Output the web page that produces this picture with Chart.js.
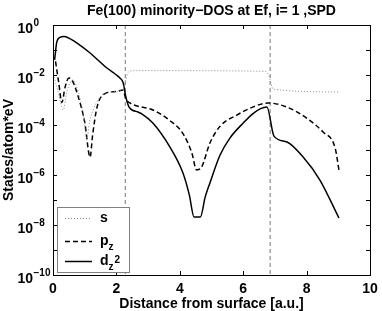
<!DOCTYPE html>
<html>
<head>
<meta charset="utf-8">
<script src="https://cdn.jsdelivr.net/npm/chart.js@4.4.1/dist/chart.umd.min.js"></script>
<style>
  html, body { margin: 0; padding: 0; background: #fff; }
  #wrap { width: 382px; height: 311px; }
</style>
</head>
<body>
<div id="wrap"><canvas id="dos" width="382" height="311"></canvas></div>
<script>
// Fe(100) minority DOS at Ef, layer i=1
const FONT = '"Liberation Sans", Arial, Helvetica, sans-serif';

const sX = [0.03, 0.15, 0.32, 0.45, 0.63, 0.8, 0.95, 1.07, 1.15, 1.23, 1.48, 1.8, 2.18, 2.3, 2.37, 2.6, 6.7, 6.8, 6.95, 9.05];
const sY = [8.3e-3, 2.5e-3, 4.0e-4, 2.5e-3, 6.3e-3, 2.0e-3, 3.2e-4, 3.0e-5, 1.3e-4, 3.0e-4, 1.3e-3, 2.1e-3, 2.5e-3, 6.3e-3, 1.3e-2, 1.5e-2, 1.4e-2, 1.0e-2, 2.7e-3, 2.1e-3];

const pX = [0.08, 0.18, 0.28, 0.38, 0.5, 0.6, 0.8, 1.0, 1.17, 1.25, 1.39, 1.64, 2.0, 2.21, 2.3, 2.43, 3.15, 3.69, 4.1, 4.38, 4.53, 4.68, 4.95, 5.27, 5.8, 6.3, 6.78, 7.38, 8.0, 8.52, 8.9, 9.02];
const pY = [3.5e-2, 5.0e-3, 7.9e-4, 3.2e-3, 7.6e-3, 6.3e-3, 1.3e-3, 1.3e-4, 5.2e-6, 4.0e-5, 5.2e-4, 1.8e-3, 2.2e-3, 2.5e-3, 1.1e-3, 7.6e-4, 4.0e-4, 1.5e-4, 4.5e-5, 7.6e-6, 1.6e-6, 2.0e-6, 1.9e-5, 8.9e-5, 2.5e-4, 5.2e-4, 7.6e-4, 5.2e-4, 1.9e-4, 5.2e-5, 1.2e-5, 1.6e-6];

const dX = [0.05, 0.12, 0.22, 0.35, 0.5, 0.76, 1.17, 1.7, 2.0, 2.11, 2.21, 2.3, 2.4, 2.68, 2.8, 3.15, 3.69, 4.1, 4.3, 4.45, 4.65, 4.8, 4.95, 5.27, 5.58, 6.0, 6.3, 6.55, 6.75, 6.97, 7.38, 7.89, 8.42, 9.02];
const dY = [4.0e-2, 2.1e-1, 3.2e-1, 3.5e-1, 3.0e-1, 1.9e-1, 7.6e-2, 1.9e-2, 1.0e-2, 7.6e-3, 5.0e-3, 1.3e-3, 5.2e-4, 3.3e-4, 2.8e-4, 1.2e-4, 1.3e-5, 1.2e-6, 1.6e-7, 2.1e-8, 2.1e-8, 1.3e-7, 4.8e-7, 6.3e-6, 3.0e-5, 1.2e-4, 2.8e-4, 4.5e-4, 5.2e-4, 3.6e-5, 2.1e-5, 5.2e-6, 6.3e-7, 1.9e-8];

// layer boundaries (gray dashed verticals)
const boundaries = [2.28, 6.85];

const xTicks = [0, 2, 4, 6, 8, 10];
const xTickLabels = ['0', '2', '4', '6', '8', '10'];
const yDecades = [1, 1e-1, 1e-2, 1e-3, 1e-4, 1e-5, 1e-6, 1e-7, 1e-8, 1e-9, 1e-10];
const yLabelVals = [1, 1e-2, 1e-4, 1e-6, 1e-8, 1e-10];
const yLabelExps = ['0', '\u22122', '\u22124', '\u22126', '\u22128', '\u221210'];

const TITLE = 'Fe(100) minority\u2212DOS at Ef, i= 1 ,SPD';
const X_TITLE = 'Distance from surface [a.u.]';
const Y_TITLE = 'States/atom*eV';

const legendItems = [
  { base: 's', sub: '', sup: '', color: '#888', width: 1, dash: [1, 2] },
  { base: 'p', sub: 'z', sup: '', color: '#000', width: 1.5, dash: [5, 3] },
  { base: 'd', sub: 'z', sup: '2', color: '#000', width: 1.5, dash: [] }
];

function pts(xs, ys) {
  return xs.map((x, i) => ({ x: x, y: ys[i] }));
}

const datasets = [
  { label: 's', data: pts(sX, sY), borderColor: '#888', borderWidth: 1, borderDash: [1, 2] },
  { label: 'p_z', data: pts(pX, pY), borderColor: '#000', borderWidth: 1.5, borderDash: [5, 3] },
  { label: 'd_z2', data: pts(dX, dY), borderColor: '#000', borderWidth: 1.5 }
].map(d => Object.assign(d, { pointRadius: 0, cubicInterpolationMode: 'monotone', fill: false }));

// verticals go last so they are painted underneath
boundaries.forEach(b => {
  datasets.push({
    label: 'boundary',
    data: [{ x: b, y: 1 }, { x: b, y: 1e-10 }],
    borderColor: '#777', borderWidth: 1, borderDash: [4, 3],
    pointRadius: 0, fill: false
  });
});

// box, inward ticks, tick labels and titles (MATLAB look)
const framePlugin = {
  id: 'frame',
  afterDatasetsDraw(chart) {
    const { ctx, chartArea: a, scales } = chart;
    const x = scales.x, y = scales.y;
    ctx.save();
    ctx.strokeStyle = '#000';
    ctx.lineWidth = 1;
    ctx.beginPath();
    xTicks.forEach(t => {
      const px = Math.round(x.getPixelForValue(t)) + 0.5;
      ctx.moveTo(px, a.bottom); ctx.lineTo(px, a.bottom - 4);
      ctx.moveTo(px, a.top); ctx.lineTo(px, a.top + 4);
    });
    yDecades.forEach(t => {
      const py = Math.round(y.getPixelForValue(t)) + 0.5;
      ctx.moveTo(a.left, py); ctx.lineTo(a.left + 4, py);
      ctx.moveTo(a.right, py); ctx.lineTo(a.right - 4, py);
    });
    ctx.stroke();
    ctx.strokeRect(Math.round(a.left) + 0.5, Math.round(a.top) + 0.5,
      Math.round(a.right - a.left), Math.round(a.bottom - a.top));

    ctx.fillStyle = '#000';
    ctx.textBaseline = 'alphabetic';

    // y labels: base right-aligned, exponent hanging to the right
    yLabelVals.forEach((v, i) => {
      const py = y.getPixelForValue(v);
      ctx.font = 'bold 14px ' + FONT;
      ctx.textAlign = 'right';
      ctx.fillText('10', 33, py + 7.5);
      ctx.font = 'bold 10px ' + FONT;
      ctx.textAlign = 'left';
      ctx.fillText(yLabelExps[i], 33.5, py + 1);
    });

    // x labels
    ctx.font = 'bold 14px ' + FONT;
    ctx.textAlign = 'center';
    xTicks.forEach((t, i) => {
      ctx.fillText(xTickLabels[i], x.getPixelForValue(t), 293);
    });

    const cx = (a.left + a.right) / 2;
    const cy = (a.top + a.bottom) / 2;
    ctx.fillText(X_TITLE, cx, 308);
    ctx.fillText(TITLE, cx, 15);

    ctx.translate(13, cy);
    ctx.rotate(-Math.PI / 2);
    ctx.fillText(Y_TITLE, 0, 0);
    ctx.restore();
  }
};

const legendPlugin = {
  id: 'mathLegend',
  afterDatasetsDraw(chart) {
    const ctx = chart.ctx;
    const bx = 57, by = 207, bw = 72, bh = 65;
    const rows = [218, 241, 261];
    ctx.save();
    ctx.fillStyle = '#fff';
    ctx.fillRect(bx, by, bw, bh);
    ctx.strokeStyle = '#808080';
    ctx.lineWidth = 1;
    ctx.strokeRect(bx + 0.5, by + 0.5, bw, bh);
    legendItems.forEach((it, i) => {
      const ry = rows[i];
      ctx.beginPath();
      ctx.setLineDash(it.dash);
      ctx.strokeStyle = it.color;
      ctx.lineWidth = it.width;
      ctx.moveTo(65, ry + 0.5); ctx.lineTo(92, ry + 0.5);
      ctx.stroke();
      ctx.setLineDash([]);
      ctx.fillStyle = '#000';
      ctx.textAlign = 'left';
      ctx.textBaseline = 'alphabetic';
      ctx.font = 'bold 14px ' + FONT;
      ctx.fillText(it.base, 100, ry + 4);
      const w = ctx.measureText(it.base).width;
      if (it.sub) {
        ctx.font = 'bold 10px ' + FONT;
        ctx.fillText(it.sub, 100 + w, ry + 8.5);
        if (it.sup) {
          const ws = ctx.measureText(it.sub).width;
          ctx.fillText(it.sup, 100 + w + ws + 1, ry + 2);
        }
      }
    });
    ctx.restore();
  }
};

new Chart(document.getElementById('dos'), {
  type: 'line',
  data: { datasets },
  plugins: [framePlugin, legendPlugin],
  options: {
    responsive: false,
    animation: false,
    devicePixelRatio: 1,
    layout: { padding: { left: 53, right: 12, top: 25, bottom: 36 } },
    plugins: {
      legend: { display: false },
      tooltip: { enabled: false },
      title: { display: false }
    },
    scales: {
      x: {
        type: 'linear',
        min: 0, max: 10,
        afterFit: s => { s.height = 0; },
        ticks: { display: false },
        grid: { display: false },
        border: { display: false }
      },
      y: {
        type: 'logarithmic',
        min: 1e-10, max: 1,
        afterFit: s => { s.width = 0; },
        ticks: { display: false },
        grid: { display: false },
        border: { display: false }
      }
    }
  }
});
</script>
</body>
</html>
